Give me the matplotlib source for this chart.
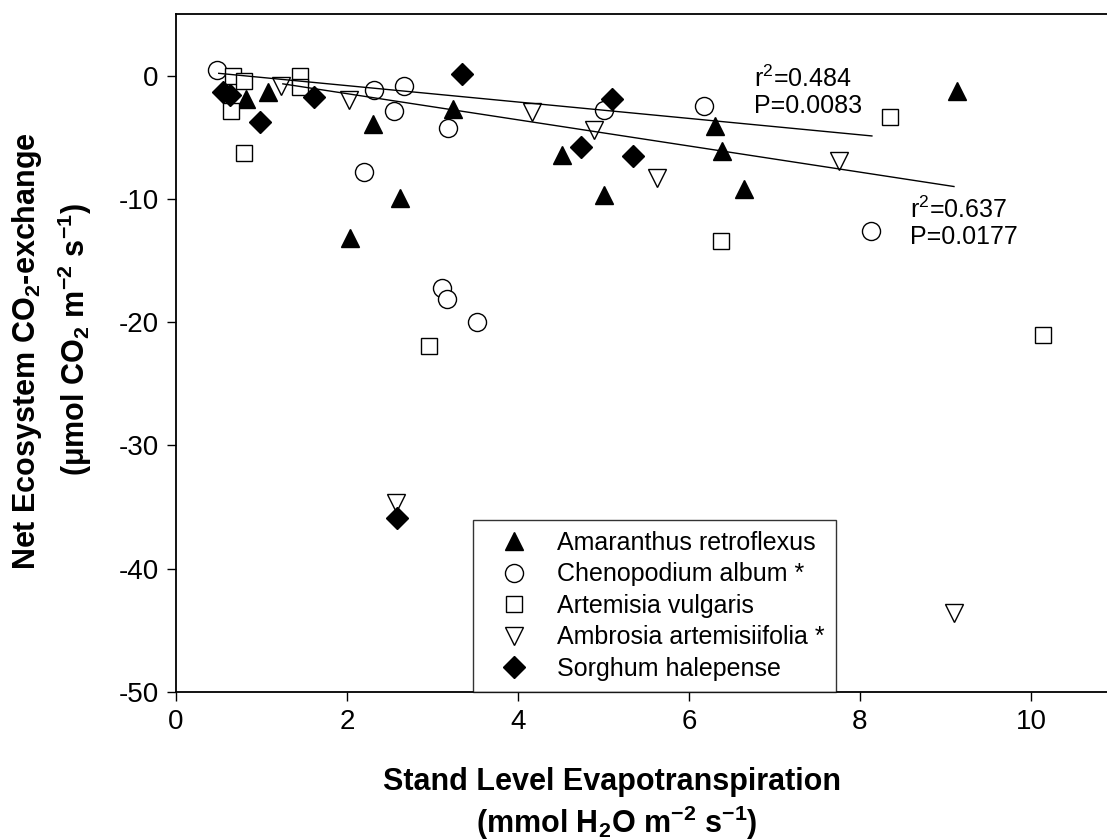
import numpy as np
import matplotlib
matplotlib.use("Agg")
import matplotlib.pyplot as plt

plt.rcParams['font.family'] = ['Liberation Sans', 'DejaVu Sans']
plt.rcParams['mathtext.fontset'] = 'custom'
plt.rcParams['mathtext.rm'] = 'Liberation Sans'
plt.rcParams['mathtext.it'] = 'Liberation Sans'
plt.rcParams['mathtext.bf'] = 'Liberation Sans:bold'
plt.rcParams['mathtext.default'] = 'regular'
plt.rcParams['axes.unicode_minus'] = False

# species data: (evapotranspiration, net ecosystem CO2 exchange)
amaranthus_x = [0.82, 1.08, 2.31, 2.62, 2.04, 3.24, 4.52, 5.01, 6.30, 6.39, 6.64, 9.13]
amaranthus_y = [-1.9, -1.35, -3.9, -9.9, -13.2, -2.7, -6.4, -9.7, -4.05, -6.1, -9.2, -1.27]

chenopodium_x = [0.48, 2.32, 2.67, 2.55, 3.18, 2.20, 3.11, 3.17, 3.52, 5.01, 6.18, 8.13]
chenopodium_y = [0.46, -1.16, -0.81, -2.9, -4.27, -7.8, -17.2, -18.1, -20.0, -2.78, -2.5, -12.6]

artemisia_x = [0.67, 0.79, 0.64, 0.79, 1.45, 1.45, 2.96, 6.37, 8.35, 10.14]
artemisia_y = [0.0, -0.46, -2.9, -6.3, 0.0, -0.9, -21.9, -13.4, -3.38, -21.0]

ambrosia_x = [1.23, 2.02, 4.16, 4.89, 5.63, 7.76, 2.57, 9.10]
ambrosia_y = [-0.81, -2.0, -2.97, -4.4, -8.3, -6.9, -34.7, -43.6]

sorghum_x = [0.55, 0.63, 0.98, 1.61, 3.35, 5.10, 4.74, 5.35, 2.59]
sorghum_y = [-1.35, -1.6, -3.8, -1.7, 0.14, -1.9, -5.75, -6.5, -35.9]

# regression lines (slope, intercept, x range)
chen_fit = (-0.665, 0.52, 0.50, 8.14)
ambr_fit = (-1.061, 0.66, 1.25, 9.10)

fig = plt.figure(figsize=(11.07, 8.40), dpi=100)
ax = fig.add_axes([176/1107, 1-692/840, (1107-176)/1107, (692-14)/840])

mk = dict(linestyle='none', markeredgecolor='black', markeredgewidth=1.0)
ax.plot(amaranthus_x, amaranthus_y, marker='^', ms=13, mfc='black', label='Amaranthus retroflexus', **mk)
ax.plot(chenopodium_x, chenopodium_y, marker='o', ms=13, mfc='white', label='Chenopodium album *', **mk)
ax.plot(artemisia_x, artemisia_y, marker='s', ms=12, mfc='white', label='Artemisia vulgaris', **mk)
ax.plot(ambrosia_x, ambrosia_y, marker='v', ms=13, mfc='white', label='Ambrosia artemisiifolia *', **mk)
ax.plot(sorghum_x, sorghum_y, marker='D', ms=11.5, mfc='black', label='Sorghum halepense', **mk)

for slope, icpt, x0, x1 in (chen_fit, ambr_fit):
    xs = np.array([x0, x1])
    ax.plot(xs, slope * xs + icpt, color='black', lw=1.0)

ax.text(6.76, -0.24, r'r$^2$=0.484', fontsize=18, va='center', ha='left')
ax.text(6.76, -2.43, 'P=0.0083', fontsize=18, va='center', ha='left')
ax.text(8.58, -10.86, r'r$^2$=0.637', fontsize=18, va='center', ha='left')
ax.text(8.58, -13.05, 'P=0.0177', fontsize=18, va='center', ha='left')

ax.set_xlim(0, 10.89)
ax.set_ylim(-50, 5)
ax.set_xticks(range(0, 11, 2))
ax.set_yticks(range(-50, 1, 10))
ax.tick_params(direction='out', length=6.5, width=1.0, labelsize=20, pad=6)
ax.spines['right'].set_visible(False)
for s in ('left', 'top', 'bottom'):
    ax.spines[s].set_linewidth(1.3)

fig.text(612/1107, 1-782/840, 'Stand Level Evapotranspiration', fontsize=22,
         fontweight='bold', ha='center', va='center')
fig.text(617/1107, 1-823/840, r'(mmol H$_\mathbf{2}$O m$^{\mathbf{-2}}$ s$^{\mathbf{-1}}$)', fontsize=22,
         fontweight='bold', ha='center', va='center')
fig.text(27/1107, 1-351/840, r'Net Ecosystem CO$_\mathbf{2}$-exchange', fontsize=22,
         fontweight='bold', ha='center', va='center', rotation=90)
fig.text(75/1107, 1-340/840, r'($\mathbf{\mu}$mol CO$_\mathbf{2}$ m$^{\mathbf{-2}}$ s$^{\mathbf{-1}}$)', fontsize=22,
         fontweight='bold', ha='center', va='center', rotation=90)

leg = ax.legend(loc='lower left', bbox_to_anchor=(473/1107, 1-692/840), bbox_transform=fig.transFigure,
                fontsize=18, frameon=True, fancybox=False, borderpad=0.45, labelspacing=0.3,
                handletextpad=0.52, handlelength=2.4, borderaxespad=0)
leg.get_frame().set_edgecolor('black')
leg.get_frame().set_linewidth(1.0)

fig.savefig('out.png', dpi=100)
